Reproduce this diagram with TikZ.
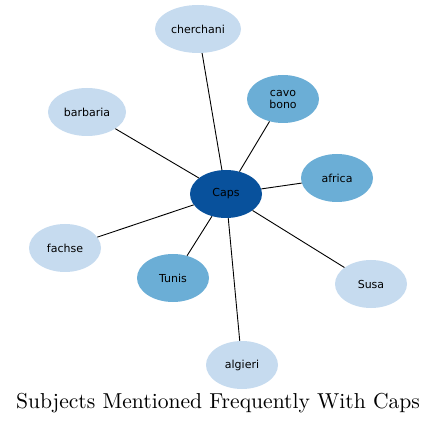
\documentclass[tikz,border=0pt]{standalone}
\usepackage{fontspec}
\newfontfamily\dejavu{DejaVu Sans}
\newfontfamily\cmten{lmroman10-regular}[Extension=.otf]
\usetikzlibrary{shapes.geometric}
\definecolor{cdark}{HTML}{08519C}
\definecolor{cmid}{HTML}{6BAED6}
\definecolor{clight}{HTML}{C6DBEF}
\tikzset{
  bub/.style={ellipse, minimum width=72pt, minimum height=48pt, inner sep=0pt, font=\dejavu\fontsize{11}{12}\selectfont, align=center, text=black},
  lt/.style={bub, fill=clight},
  md/.style={bub, fill=cmid},
  dk/.style={bub, fill=cdark},
  edge/.style={draw=black, line width=0.9pt}
}
\begin{document}
\begin{tikzpicture}[x=1pt,y=-1pt]
\useasboundingbox (0,0) rectangle (437,425);
\node[dk] (caps) at (226,194) {Caps};
\node[lt, minimum width=86pt] (cherchani) at (198,29) {cherchani};
\node[md] (cavo) at (283,99) {cavo\\bono};
\node[lt, minimum width=78pt] (barbaria) at (87,112) {barbaria};
\node[md] (africa) at (337,178) {africa};
\node[lt] (fachse) at (65,248) {fachse};
\node[md] (tunis) at (173,278) {Tunis};
\node[lt] (susa) at (371,284) {Susa};
\node[lt] (algieri) at (242,365) {algieri};
\foreach \n in {cherchani,cavo,barbaria,africa,fachse,tunis,susa,algieri}
  \draw[edge] (caps) -- (\n);
\node[font=\cmten\fontsize{21.6}{24}\selectfont] (title) at (218,403) {Subjects Mentioned Frequently With Caps};
\end{tikzpicture}
\end{document}
